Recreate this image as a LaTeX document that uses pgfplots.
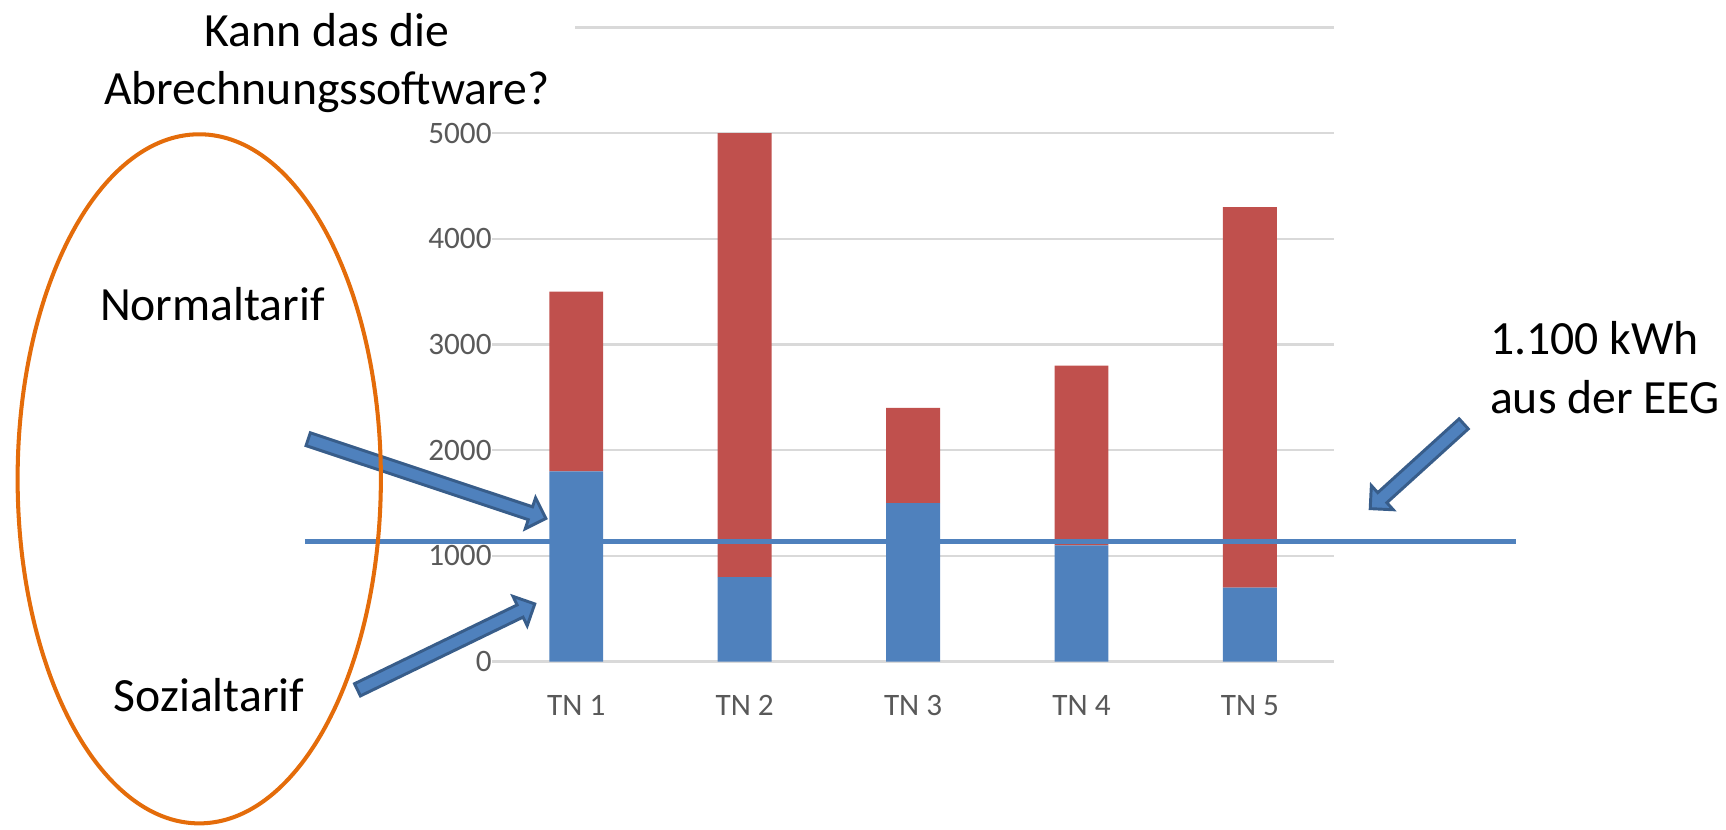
\documentclass[border=0pt]{standalone}
\usepackage{pgfplots}
\pgfplotsset{compat=1.18}
\usepackage{fontspec}
\setmainfont{Carlito}
\usetikzlibrary{shapes.arrows}
\definecolor{barblue}{HTML}{4F81BD}
\definecolor{barred}{HTML}{C0504D}
\definecolor{gridgray}{HTML}{D9D9D9}
\definecolor{ticktext}{HTML}{595959}
\definecolor{ellorange}{HTML}{E46C0A}
\definecolor{arrowedge}{HTML}{385D8A}
\begin{document}
\begin{tikzpicture}
\path[use as bounding box] (0pt,0pt) rectangle (470.4pt,-226.2pt);
\begin{axis}[
  at={(134.1pt,-180.3pt)}, anchor=south west,
  scale only axis, width=229.5pt, height=172.8pt,
  xmin=-0.5, xmax=4.5, ymin=0, ymax=6000,
  ybar stacked, bar width=14.7pt,
  axis line style={draw=none}, major tick length=0pt,
  ymajorgrids, grid style={gridgray, line width=0.6pt},
  ytick={0,1000,...,5000},
  extra y ticks={6000}, extra y tick labels={},
  extra y tick style={grid=major},
  xtick={0,1,2,3,4}, xticklabels={TN 1,TN 2,TN 3,TN 4,TN 5},
  tick label style={font=\fontsize{8.5}{10}\selectfont, text=ticktext},
  yticklabel style={xshift=3.4pt},
  xticklabel style={yshift=-5.7pt},
  /pgf/number format/assume math mode=true,
  /pgf/number format/set thousands separator={},
  clip=false,
]
\addplot[fill=barblue, draw=none] coordinates {(0,1800) (1,800) (2,1500) (3,1100) (4,700)};
\addplot[fill=barred, draw=none] coordinates {(0,1700) (1,4200) (2,900) (3,1700) (4,3600)};
\end{axis}
\begin{axis}[
  at={(134.1pt,-180.3pt)}, anchor=south west,
  scale only axis, width=229.5pt, height=172.8pt,
  xmin=-0.5, xmax=4.5, ymin=0, ymax=6000,
  hide axis, clip=false,
]
\addplot[barblue, line width=1.45pt] coordinates {(-1.611,1135) (5.578,1135)};
\end{axis}
\begin{scope}[x=0.3pt,y=-0.3pt]
\fill[white] (85,0) rectangle (522,108);
\node[anchor=base, font=\fontsize{13}{15.9}\selectfont] at (297,42) {Kann das die};
\node[anchor=base, font=\fontsize{13}{15.9}\selectfont] at (297,95) {Abrechnungssoftware?};
\node[anchor=base, font=\fontsize{13}{15.9}\selectfont] at (193,291) {Normaltarif};
\node[anchor=base, font=\fontsize{13}{15.9}\selectfont] at (190,646) {Sozialtarif};
\node[anchor=base west, inner sep=0pt, font=\fontsize{13}{15.9}\selectfont] at (1353,322) {1.100 kWh};
\node[anchor=base west, inner sep=0pt, font=\fontsize{13}{15.9}\selectfont] at (1353,376) {aus der EEG};
\tikzset{blockarrow/.style={single arrow, draw=arrowedge, fill=barblue, line width=0.8pt, inner sep=1.45pt, single arrow head extend=2.6pt, anchor=center}}
\node[blockarrow, minimum height=68.3pt, rotate=-18.43] at (385,434) {};
\node[blockarrow, minimum height=53.7pt, rotate=25.85] at (402.5,589) {};
\node[blockarrow, minimum height=34.4pt, rotate=222.2] at (1289.5,421.5) {};
\draw[ellorange, line width=1.1pt] (181,435) ellipse [x radius=165, y radius=313];
\end{scope}
\end{tikzpicture}
\end{document}
